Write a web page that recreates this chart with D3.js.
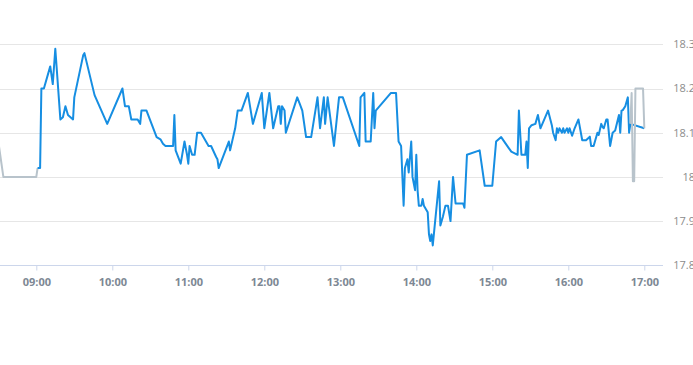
<!doctype html>
<html lang="en">
<head>
<meta charset="utf-8">
<title>Intraday price</title>
<script src="https://cdn.jsdelivr.net/npm/d3@7/dist/d3.min.js"></script>
<style>
  body { margin: 0; background: #fff; }
  svg { display: block; font-family: "Open Sans", sans-serif; }
</style>
</head>
<body>
<svg id="chart" width="693" height="365"></svg>
<script>
// pre-open / auction prints (grey)
var preTimes = ["08:30", "08:34", "09:00", "09:01"];
var preValues = [18.08, 18.00, 18.00, 18.02];

// continuous trading (blue)
var tradeTimes = ["09:01","09:03","09:04","09:06","09:11","09:13","09:15","09:19","09:21","09:23",
  "09:25","09:29","09:30","09:37","09:38","09:46","09:56","10:08","10:10","10:13",
  "10:15","10:20","10:22","10:23","10:27","10:35","10:38","10:40","10:42","10:48",
  "10:49","10:50","10:54","10:57","10:59","11:00","11:01","11:03","11:05","11:07",
  "11:10","11:16","11:18","11:22","11:23","11:24","11:32","11:33","11:37","11:39",
  "11:42","11:47","11:51","11:58","12:00","12:04","12:07","12:11","12:12","12:13",
  "12:14","12:16","12:17","12:26","12:28","12:30","12:33","12:37","12:42","12:44",
  "12:47","12:48","12:50","12:55","12:59","13:02","13:15","13:16","13:19","13:20",
  "13:24","13:26","13:27","13:28","13:40","13:44","13:46","13:48","13:50","13:51",
  "13:53","13:54","13:56","13:57","13:59","14:00","14:01","14:02","14:04","14:05",
  "14:06","14:09","14:10","14:11","14:12","14:13","14:18","14:19","14:21","14:23",
  "14:25","14:27","14:29","14:31","14:37","14:38","14:40","14:50","14:54","15:00",
  "15:03","15:07","15:13","15:15","15:20","15:21","15:23","15:26","15:27","15:28",
  "15:29","15:31","15:34","15:36","15:38","15:44","15:47","15:48","15:50","15:51",
  "15:52","15:53","15:55","15:56","15:57","15:59","16:00","16:01","16:03","16:05",
  "16:08","16:11","16:14","16:17","16:18","16:20","16:23","16:24","16:26","16:27",
  "16:28","16:30","16:31","16:33","16:35","16:37","16:40","16:41","16:42","16:43",
  "16:45","16:47","16:48","16:49","17:00"];
var tradeValues = [18.02,18.02,18.20,18.20,18.25,18.21,18.29,18.13,18.135,18.16,
  18.14,18.13,18.18,18.275,18.28,18.185,18.12,18.20,18.16,18.16,
  18.13,18.13,18.12,18.15,18.15,18.09,18.085,18.075,18.07,18.07,
  18.14,18.06,18.03,18.08,18.05,18.03,18.07,18.05,18.05,18.10,
  18.10,18.07,18.07,18.045,18.04,18.02,18.08,18.06,18.11,18.15,
  18.15,18.19,18.12,18.19,18.11,18.19,18.11,18.16,18.16,18.12,
  18.16,18.15,18.10,18.18,18.165,18.15,18.09,18.09,18.18,18.11,
  18.18,18.12,18.18,18.07,18.18,18.18,18.07,18.18,18.19,18.08,
  18.08,18.19,18.11,18.15,18.19,18.19,18.08,18.07,17.935,18.02,
  18.04,18.01,18.08,18.00,17.97,18.05,17.97,17.935,17.935,17.95,
  17.935,17.92,17.87,17.855,17.87,17.845,17.99,17.89,17.91,17.935,
  17.935,17.90,18.00,17.94,17.94,17.93,18.05,18.06,17.98,17.98,
  18.08,18.09,18.065,18.057,18.05,18.15,18.05,18.05,18.08,18.02,
  18.11,18.117,18.12,18.14,18.11,18.15,18.117,18.10,18.083,18.11,
  18.10,18.11,18.10,18.11,18.10,18.11,18.10,18.11,18.093,18.11,
  18.13,18.083,18.083,18.091,18.07,18.07,18.10,18.095,18.12,18.113,
  18.11,18.13,18.13,18.07,18.10,18.105,18.14,18.10,18.15,18.151,
  18.16,18.18,18.10,18.12,18.11];

// closing auction prints (grey)
var postTimes = ["16:49", "16:50", "16:51", "16:52", "16:53", "16:59", "17:00"];
var postValues = [18.12, 18.19, 17.99, 17.99, 18.20, 18.20, 18.11];

var hourTicks = ["09:00","10:00","11:00","12:00","13:00","14:00","15:00","16:00","17:00"];
var priceTicks = [17.8, 17.9, 18.0, 18.1, 18.2, 18.3];

var parseTime = d3.timeParse("%H:%M");
var plotRight = 663;

var svg = d3.select("#chart");

var x = d3.scaleTime()
  .domain([parseTime("08:30"), parseTime("17:15")])
  .range([-1.7, 663.3]);
var y = d3.scaleLinear()
  .domain([17.8, 18.3])
  .range([265.3, 44.3]);

// horizontal grid
svg.append("g").selectAll("line")
  .data(priceTicks.slice(1))
  .enter().append("line")
  .attr("x1", 0).attr("x2", plotRight)
  .attr("y1", d => Math.round(y(d)) + 0.5)
  .attr("y2", d => Math.round(y(d)) + 0.5)
  .attr("stroke", "#e6e6e6");

// right price labels
svg.append("g").selectAll("text")
  .data(priceTicks)
  .enter().append("text")
  .attr("x", 695)
  .attr("y", d => y(d))
  .attr("dy", "0.35em")
  .attr("text-anchor", "end")
  .attr("fill", "#8c8c8c")
  .style("font-size", "11px")
  .text(d => String(+d.toFixed(1)));

// bottom time axis
var xAxis = d3.axisBottom(x)
  .tickValues(hourTicks.map(parseTime))
  .tickFormat(d3.timeFormat("%H:%M"))
  .tickSize(5)
  .tickSizeOuter(0);

var gx = svg.append("g")
  .attr("transform", "translate(0," + (Math.round(y(17.8)) + 0.5) + ")")
  .call(xAxis);
gx.select(".domain").attr("d", "M0,0H" + plotRight).attr("stroke", "#ccd6eb");
gx.selectAll(".tick line").attr("stroke", "#ccd6eb");
gx.selectAll(".tick text")
  .attr("y", 13)
  .attr("fill", "#7d8894")
  .style("font-size", "11px")
  .style("font-weight", "bold")
  .style("font-family", "'Open Sans', sans-serif");

function series(times, values) {
  return times.map((t, i) => ({ t: parseTime(t), v: values[i] }));
}

var line = d3.line()
  .x(d => x(d.t))
  .y(d => y(d.v));

svg.append("path")
  .datum(series(preTimes, preValues))
  .attr("d", line)
  .attr("fill", "none")
  .attr("stroke", "#b8c3cb")
  .attr("stroke-width", 2)
  .attr("stroke-linejoin", "round");

svg.append("path")
  .datum(series(tradeTimes, tradeValues))
  .attr("d", line)
  .attr("fill", "none")
  .attr("stroke", "#168ee2")
  .attr("stroke-width", 2)
  .attr("stroke-linejoin", "round");

svg.append("path")
  .datum(series(postTimes, postValues))
  .attr("d", line)
  .attr("fill", "none")
  .attr("stroke", "#b8c3cb")
  .attr("stroke-width", 2)
  .attr("stroke-linejoin", "round");
</script>
</body>
</html>
